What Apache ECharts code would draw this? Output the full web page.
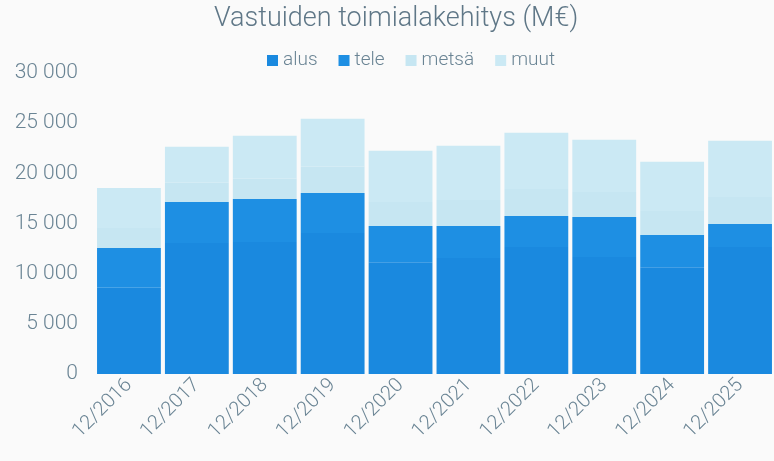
<!DOCTYPE html>
<html><head><meta charset="utf-8">
<script src="https://cdn.jsdelivr.net/npm/echarts@6/dist/echarts.min.js"></script>
<style>html,body{margin:0;padding:0;background:#fafafa;}#c{width:774px;height:461px;}</style>
</head><body><div id="c"></div>
<script>
const categories = ['12/2016','12/2017','12/2018','12/2019','12/2020','12/2021','12/2022','12/2023','12/2024','12/2025'];
const alus  = [8600, 13050, 13150, 14050, 11150, 11550, 12650, 11650, 10650, 12650];
const tele  = [3950, 4100, 4300, 4000, 3600, 3200, 3100, 4000, 3200, 2300];
const metsa = [2000, 1900, 2000, 2600, 2400, 2600, 2700, 2500, 2400, 2700];
const muut  = [4000, 3600, 4300, 4800, 5100, 5400, 5600, 5200, 4900, 5600];
const yTicks = [0, 5000, 10000, 15000, 20000, 25000, 30000];

const txt = '#6a8494';
const font = 'Roboto';
const chart = echarts.init(document.getElementById('c'));
const mk = (name, data, color) => ({name, type:'bar', stack:'a', data, barCategoryGap:'6%', itemStyle:{color}, emphasis:{disabled:true}});
chart.setOption({
  backgroundColor:'#fafafa',
  textStyle:{fontFamily:font},
  title:{text:'Vastuiden toimialakehitys (M€)', left:209, top:1,
    textStyle:{fontFamily:font, fontWeight:300, fontSize:27, color:'#5f7787'}},
  legend:{top:46, left:262, itemWidth:11, itemHeight:11, itemGap:21, icon:'rect',
    textStyle:{fontFamily:font, fontWeight:300, fontSize:19, color:txt, padding:[0,0,0,0]},
    data:['alus','tele','metsä','muut']},
  grid:{left:95, right:-12, top:73, bottom:87},
  xAxis:{type:'category', data:categories, axisLine:{show:false}, axisTick:{show:false},
    axisLabel:{rotate:45, fontFamily:font, fontWeight:300, fontSize:20, color:txt, margin:8, interval:0}},
  yAxis:{type:'value', min:0, max:30000, interval:5000, splitLine:{show:false},
    axisLine:{show:false}, axisTick:{show:false},
    axisLabel:{fontFamily:font, fontWeight:300, fontSize:21, color:txt, margin:17,
      formatter:v => String(v).replace(/\B(?=(\d{3})+(?!\d))/g,' ')}},
  series:[
    mk('alus', alus, '#1a89df'),
    mk('tele', tele, '#1e8fe3'),
    mk('metsä', metsa, '#c6e6f2'),
    mk('muut', muut, '#cbe9f4')
  ]
});
</script></body></html>
